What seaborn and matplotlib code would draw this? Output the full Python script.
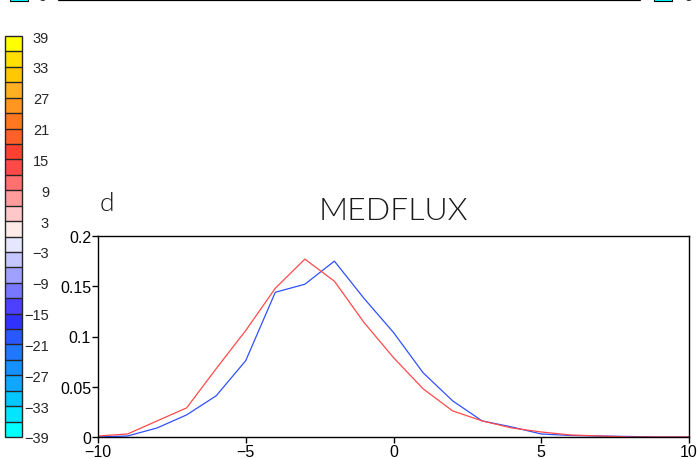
import numpy as np
import pandas as pd
import matplotlib
matplotlib.use("Agg")
import matplotlib.pyplot as plt
import matplotlib.colors as mcolors
import seaborn as sns
from matplotlib.lines import Line2D
from matplotlib.patches import Rectangle

# data
x_vals = [-10, -9, -8, -7, -6, -5, -4, -3, -2, -1, 0, 1, 2, 3, 4, 5, 6, 7, 8, 9, 10]
red_vals = [0.001, 0.003, 0.016, 0.029, 0.068, 0.106, 0.148, 0.177, 0.155, 0.114, 0.079,
            0.048, 0.026, 0.016, 0.009, 0.005, 0.002, 0.001, 0.0, 0.0, 0.0]
blue_vals = [0.0, 0.001, 0.009, 0.022, 0.041, 0.076, 0.144, 0.152, 0.175, 0.138, 0.104,
             0.064, 0.036, 0.016, 0.010, 0.003, 0.0015, 0.001, 0.0005, 0.0, 0.0]

cbar_bounds = list(range(-39, 40, 3))
cbar_ticks = list(range(-39, 40, 6))
cbar_colors = ['#00FFFF', '#00E6FF', '#00C8FF', '#10A8FF', '#1490FF', '#2078FF', '#2858FF',
               '#3030FF', '#4E40FF', '#7878FF', '#A0A0FF', '#C6C6FF', '#E6E6FF',
               '#FFEAEA', '#FFC8C8', '#FF9C9C', '#FF7070', '#FF4848', '#FF4030', '#FF5F28',
               '#FF7820', '#FF9620', '#FFB020', '#FFC800', '#FFE000', '#FFFF00']

sns.set_style("ticks")
plt.rcParams['font.family'] = ['Liberation Sans', 'DejaVu Sans']

fig = plt.figure(figsize=(6.97, 4.6), dpi=100)

df = pd.DataFrame({'x': x_vals, 'red': red_vals, 'blue': blue_vals})

ax = fig.add_axes([98 / 697, 22 / 460, 591 / 697, 201 / 460])
sns.lineplot(data=df, x='x', y='blue', color='#3050FF', lw=0.9, ax=ax)
sns.lineplot(data=df, x='x', y='red', color='#FF4A4A', lw=0.9, ax=ax)
ax.set_xlim(-10, 10)
ax.set_ylim(0, 0.2)
ax.set_xticks([-10, -5, 0, 5, 10])
ax.set_xticklabels(['\u221210', '\u22125', '0', '5', '10'])
ax.set_yticks([0, 0.05, 0.1, 0.15, 0.2])
ax.set_yticklabels(['0', '0.05', '0.1', '0.15', '0.2'])
ax.set_xlabel('')
ax.set_ylabel('')
ax.tick_params(direction='out', length=4, width=1, labelsize=11.5, pad=1, colors='black')
for s in ax.spines.values():
    s.set_visible(True)
    s.set_linewidth(1.0)
    s.set_color('black')

ax.set_title('MEDFLUX', fontsize=23, fontweight=300, family=['Lato', 'DejaVu Sans'],
             pad=12, color='#1a1a1a')
fig.text(100 / 697, 1 - 204 / 460, 'd', fontsize=19, fontweight=300,
         family=['Lato', 'DejaVu Sans'], va='center', ha='left', color='#1a1a1a')

# colorbar on the left
cmap = mcolors.ListedColormap(cbar_colors)
norm = mcolors.BoundaryNorm(cbar_bounds, cmap.N)
cax = fig.add_axes([5 / 697, 22 / 460, 17 / 697, 401 / 460])
cb = fig.colorbar(plt.cm.ScalarMappable(norm=norm, cmap=cmap), cax=cax,
                  ticks=cbar_ticks, drawedges=True)
cb.outline.set_linewidth(1.0)
cb.dividers.set_linewidth(1.0)
cb.ax.minorticks_off()
cb.ax.tick_params(which='both', length=0, labelsize=10.5, pad=19.5)
cb.ax.set_yticklabels([str(t).replace('-', '\u2212') for t in cbar_ticks])
for lab in cb.ax.get_yticklabels():
    lab.set_ha('right')

# remnants of the panel above (cut by the page edge)
fig.add_artist(Line2D([59 / 697, 640 / 697], [1 - 1 / 460, 1 - 1 / 460], color='black', lw=1.6))
fig.add_artist(Rectangle((10 / 697, 1 - 2 / 460), 18 / 697, 4 / 460, facecolor='#00FFFF',
                         edgecolor='black', lw=0.8))
fig.add_artist(Rectangle((654 / 697, 1 - 2 / 460), 18 / 697, 4 / 460, facecolor='#00FFFF',
                         edgecolor='black', lw=0.8))
fig.text(31 / 697, 1 + 3 / 460, '\u22125', fontsize=10, ha='left', va='center')
fig.text(677 / 697, 1 + 3 / 460, '\u22125', fontsize=10, ha='left', va='center')

fig.savefig('out.png', dpi=100)
